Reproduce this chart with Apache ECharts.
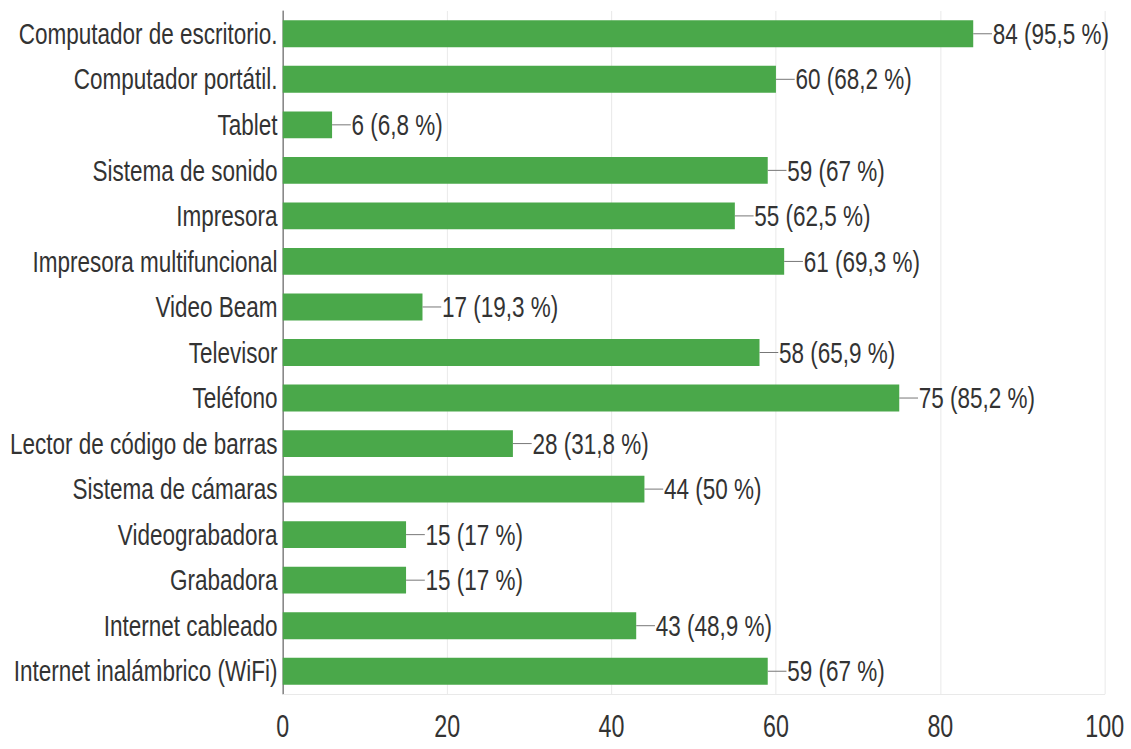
<!DOCTYPE html>
<html>
<head>
<meta charset="utf-8">
<script src="https://cdn.jsdelivr.net/npm/echarts@6/dist/echarts.min.js"></script>
<style>
	html, body { margin: 0; padding: 0; background: #fff; overflow: hidden; }
	/* el texto del original es condensado: se dibuja más ancho y se comprime en X */
	#main { width: 1508px; height: 749px; transform-origin: 0 0; transform: scaleX(0.75); }
</style>
</head>
<body>
<div id="main"></div>
<script>
var categories = [
	'Computador de escritorio.',
	'Computador portátil.',
	'Tablet',
	'Sistema de sonido',
	'Impresora',
	'Impresora multifuncional',
	'Video Beam',
	'Televisor',
	'Teléfono',
	'Lector de código de barras',
	'Sistema de cámaras',
	'Videograbadora',
	'Grabadora',
	'Internet cableado',
	'Internet inalámbrico (WiFi)'
];
var counts = [84, 60, 6, 59, 55, 61, 17, 58, 75, 28, 44, 15, 15, 43, 59];
var percents = ['95,5', '68,2', '6,8', '67', '62,5', '69,3', '19,3', '65,9', '85,2', '31,8', '50', '17', '17', '48,9', '67'];
var xTicks = [0, 20, 40, 60, 80, 100];

var font = '"Liberation Sans", Arial, sans-serif';
var chart = echarts.init(document.getElementById('main'), null, { renderer: 'svg' });

var option = {
	animation: false,
	grid: {
		left: 377,
		right: 35,
		top: 11,
		bottom: 55,
		outerBoundsMode: 'none'
	},
	xAxis: {
		type: 'value',
		min: xTicks[0],
		max: xTicks[xTicks.length - 1],
		interval: 20,
		axisLine: { show: true, lineStyle: { color: '#e6e6e6' } },
		axisTick: { show: false },
		splitLine: { lineStyle: { color: '#e6e6e6' } },
		axisLabel: {
			margin: 17,
			fontFamily: font,
			fontSize: 31,
			color: '#333'
		}
	},
	yAxis: {
		type: 'category',
		inverse: true,
		data: categories,
		axisLine: { show: true, lineStyle: { color: '#333' } },
		axisTick: { show: false },
		axisLabel: {
			margin: 7,
			fontFamily: font,
			fontSize: 30,
			color: '#333'
		}
	},
	series: [
		{
			type: 'bar',
			data: counts,
			barWidth: '59%',
			itemStyle: { color: '#4aa84a' },
			label: {
				show: true,
				position: 'right',
				distance: 0,
				formatter: function (p) {
					return '{l| }{v|' + p.value + ' (' + percents[p.dataIndex] + ' %)}';
				},
				rich: {
					l: { width: 25, height: 1, backgroundColor: '#777' },
					v: { fontFamily: font, fontSize: 30, color: '#333', padding: [0, 0, 0, 1] }
				}
			}
		}
	]
};
chart.setOption(option);
</script>
</body>
</html>
